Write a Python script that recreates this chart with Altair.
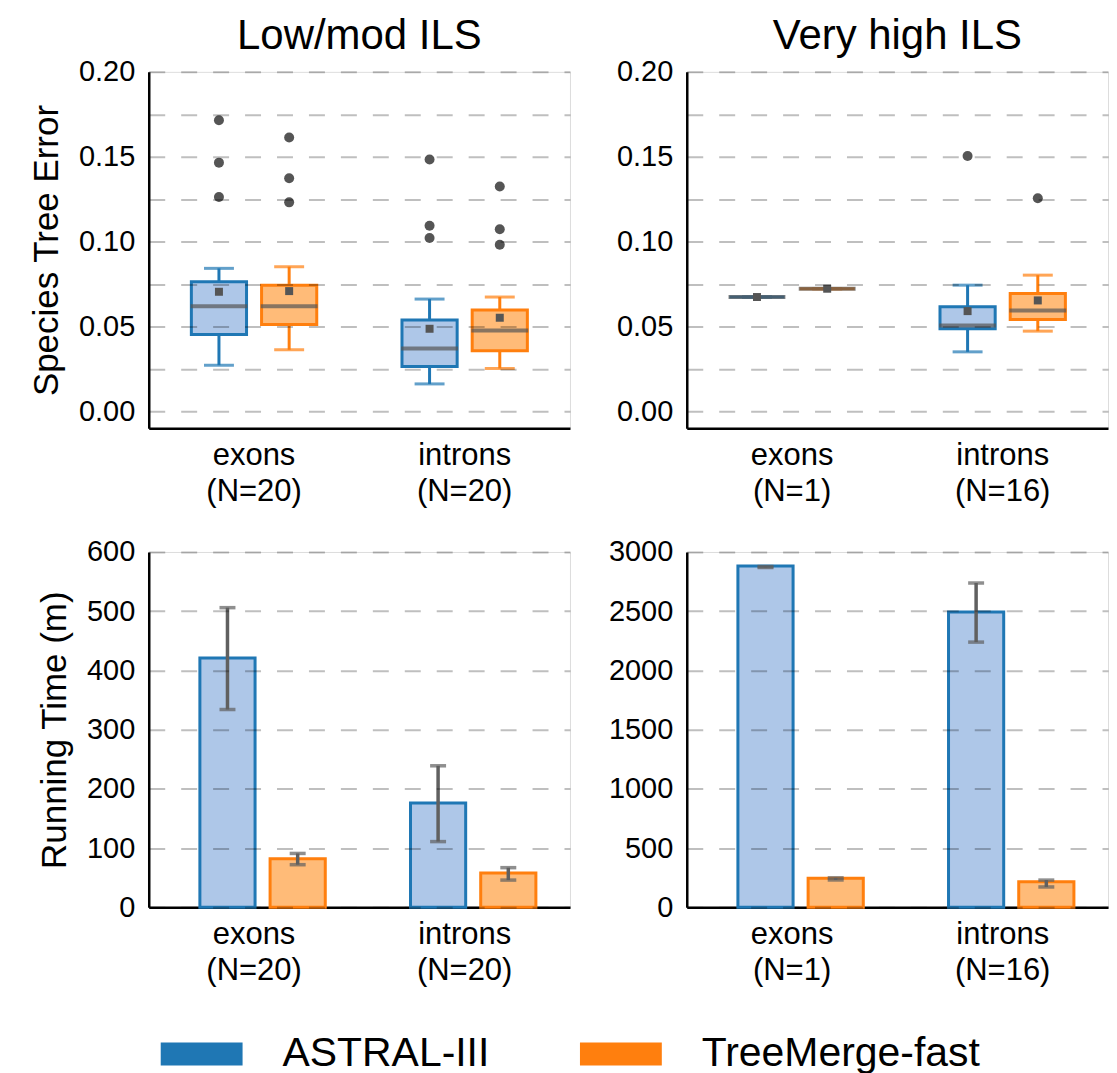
import altair as alt
import pandas as pd

FONT = "Liberation Sans"
methods = ["ASTRAL-III", "TreeMerge-fast"]
dark = ["#1f77b4", "#ff7f0e"]
light = ["#aec7e8", "#ffbb78"]
cats = ["exons", "introns"]
n_low = ["(N=20)", "(N=20)"]
n_high = ["(N=1)", "(N=16)"]

# box stats, order: exons/ASTRAL, exons/TreeMerge, introns/ASTRAL, introns/TreeMerge
low_lo = [0.0271, 0.0362, 0.0161, 0.0252]
low_q1 = [0.0452, 0.0511, 0.0264, 0.0356]
low_med = [0.0619, 0.0619, 0.0370, 0.0476]
low_q3 = [0.0763, 0.0743, 0.0537, 0.0596]
low_hi = [0.0842, 0.0852, 0.0661, 0.0673]
low_mean = [0.0704, 0.0708, 0.0486, 0.0551]
low_out_cat = ["exons"] * 6 + ["introns"] * 6
low_out_method = (["ASTRAL-III"] * 3 + ["TreeMerge-fast"] * 3) * 2
low_out_val = [0.1715, 0.1465, 0.1263, 0.1613, 0.1373, 0.1231,
               0.1483, 0.1093, 0.1021, 0.1324, 0.1072, 0.0981]

high_lo = [0.0673, 0.0722, 0.0350, 0.0472]
high_q1 = [0.0673, 0.0722, 0.0486, 0.0541]
high_med = [0.0673, 0.0722, 0.0505, 0.0594]
high_q3 = [0.0673, 0.0722, 0.0616, 0.0694]
high_hi = [0.0673, 0.0722, 0.0743, 0.0802]
high_mean = [0.0673, 0.0722, 0.0590, 0.0653]
high_out_cat = ["introns", "introns"]
high_out_method = ["ASTRAL-III", "TreeMerge-fast"]
high_out_val = [0.1504, 0.1255]

# running time (minutes): bar value, error low, error high
low_time = [421, 82, 176, 58]
low_time_lo = [334, 72, 111, 46]
low_time_hi = [506, 91, 239, 67]
high_time = [2882, 245, 2493, 217]
high_time_lo = [2869, 231, 2239, 172]
high_time_hi = [2877, 249, 2738, 230]

GRAY = "#555555"

legend = alt.Legend(
    orient="none", legendX=12, legendY=943, direction="horizontal", title=None,
    symbolType="M-1,-0.28H1V0.28H-1Z", symbolSize=6724, symbolStrokeWidth=0,
    symbolOpacity=1, labelFontSize=41, labelFont=FONT, labelOffset=40,
    labelLimit=500, columnPadding=90, labelColor="black",
)


def label_expr(ns):
    parts = []
    for c, n in zip(cats, ns):
        parts.append(f"datum.value == '{c}' ? ['{c}', '{n}'] : ")
    return "".join(parts) + "datum.value"


def x_enc(ns):
    return alt.X(
        "cat:N", sort=cats,
        scale=alt.Scale(paddingInner=0, paddingOuter=0),
        axis=alt.Axis(title=None, ticks=False, tickSize=0, labelAngle=0,
                      labelFontSize=31, labelPadding=12, labelLineHeight=36,
                      labelColor="black", labelExpr=label_expr(ns),
                      domainColor="black", domainWidth=2.5, grid=False),
    )


def xo_enc(align=0.5):
    return alt.XOffset("method:N", sort=methods,
                       scale=alt.Scale(domain=methods, paddingInner=0.214,
                                       paddingOuter=0.607, align=align))


def y_axis(values, title, labexpr=None, fmt=None):
    kw = dict(values=values, grid=True, gridDash=[16, 16], gridColor="black",
              gridOpacity=0.25, gridWidth=2, ticks=False, tickSize=0,
              domainColor="black", domainWidth=2.5, labelFontSize=29,
              labelPadding=14, labelColor="black", zindex=1,
              titleFontSize=35, titleFontWeight="normal", titleColor="black",
              titlePadding=14)
    if labexpr:
        kw["labelExpr"] = labexpr
    if fmt:
        kw["format"] = fmt
    kw["title"] = title if title else None
    return alt.Axis(**kw)


fill_enc = alt.Fill("method:N", scale=alt.Scale(domain=methods, range=light), legend=None)
stroke_enc = alt.Stroke("method:N", scale=alt.Scale(domain=methods, range=dark), legend=None)
# data-driven domain (field "series") so this legend is not merged with the hidden ones
color_enc = alt.Color("series:N", sort=methods,
                      scale=alt.Scale(range=dark), legend=legend)


def box_panel(title, ns, lo, q1, med, q3, hi, mean, oc, om, ov, ytitle):
    df = pd.DataFrame({
        "cat": [c for c in cats for _ in methods],
        "method": [m for _ in cats for m in methods],
        "series": [m for _ in cats for m in methods],
        "lo": lo, "q1": q1, "med": med, "q3": q3, "hi": hi, "mean": mean,
    })
    out = pd.DataFrame({"cat": oc, "method": om, "v": ov})
    vals = [round(i * 0.025, 3) for i in range(9)]
    yscale = alt.Scale(domain=[-0.01, 0.2], nice=False, zero=False)
    lab = "abs(datum.value*20 - round(datum.value*20)) < 0.001 ? format(datum.value, '.2f') : ''"
    yax = y_axis(vals, ytitle, lab)
    base = alt.Chart(df).encode(x=x_enc(ns), xOffset=xo_enc())
    wl = base.mark_rule(strokeWidth=3).encode(
        y=alt.Y("lo:Q", scale=yscale, axis=yax), y2="q1:Q", stroke=stroke_enc)
    wh = base.mark_rule(strokeWidth=3).encode(
        y=alt.Y("q3:Q", scale=yscale, axis=yax), y2="hi:Q", stroke=stroke_enc)
    box = base.mark_bar(strokeWidth=3).encode(
        y=alt.Y("q1:Q", scale=yscale, axis=yax), y2="q3:Q",
        fill=fill_enc, stroke=stroke_enc)
    cap_lo = base.mark_tick(size=30, thickness=3).encode(
        y=alt.Y("lo:Q", scale=yscale, axis=yax), color=color_enc)
    cap_hi = base.mark_tick(size=30, thickness=3).encode(
        y=alt.Y("hi:Q", scale=yscale, axis=yax), color=color_enc)
    medl = base.mark_tick(size=57, thickness=4, color=GRAY).encode(
        y=alt.Y("med:Q", scale=yscale, axis=yax))
    meanp = base.mark_square(size=64, color=GRAY, opacity=1).encode(
        y=alt.Y("mean:Q", scale=yscale, axis=yax))
    outp = alt.Chart(out).mark_circle(size=100, color=GRAY, opacity=1).encode(
        x=x_enc(ns), xOffset=xo_enc(), y=alt.Y("v:Q", scale=yscale, axis=yax))
    return alt.layer(wl, wh, box, cap_lo, cap_hi, medl, meanp, outp).properties(
        width=422, height=357,
        title=alt.Title(title, fontSize=42, fontWeight="normal", font=FONT,
                        color="black", offset=0),
    )


def bar_panel(ns, val, elo, ehi, ymax, step, ytitle):
    df = pd.DataFrame({
        "cat": [c for c in cats for _ in methods],
        "method": [m for _ in cats for m in methods],
        "v": val, "lo": elo, "hi": ehi,
    })
    vals = list(range(0, ymax + 1, step))
    yscale = alt.Scale(domain=[0, ymax], nice=False)
    yax = y_axis(vals, ytitle, fmt="d")
    base = alt.Chart(df).encode(x=x_enc(ns), xOffset=xo_enc(0.6))
    bars = base.mark_bar(strokeWidth=3).encode(
        y=alt.Y("v:Q", scale=yscale, axis=yax), fill=fill_enc, stroke=stroke_enc)
    err = base.mark_rule(strokeWidth=3.5, color="#606060").encode(
        y=alt.Y("lo:Q", scale=yscale, axis=yax), y2="hi:Q")
    clo = base.mark_tick(size=16, thickness=3.5, color="#606060").encode(
        y=alt.Y("lo:Q", scale=yscale, axis=yax))
    chi = base.mark_tick(size=16, thickness=3.5, color="#606060").encode(
        y=alt.Y("hi:Q", scale=yscale, axis=yax))
    return alt.layer(bars, err, clo, chi).properties(width=422, height=356)


tl = box_panel("Low/mod ILS", n_low, low_lo, low_q1, low_med, low_q3, low_hi,
               low_mean, low_out_cat, low_out_method, low_out_val, "Species Tree Error")
tr = box_panel("Very high ILS", n_high, high_lo, high_q1, high_med, high_q3, high_hi,
               high_mean, high_out_cat, high_out_method, high_out_val, None)
bl = bar_panel(n_low, low_time, low_time_lo, low_time_hi, 600, 100, "Running Time (m)")
br = bar_panel(n_high, high_time, high_time_lo, high_time_hi, 3000, 500, None)

chart = alt.concat(
    tl, tr, bl, br, columns=2,
    spacing=alt.RowColnumber(row=124, column=117),
    bounds="flush",
).resolve_scale(
    x="independent", y="independent", xOffset="independent",
    color="shared", fill="shared", stroke="shared",
).properties(
    padding={"left": 21, "top": 5, "right": 0, "bottom": 0},
).configure_view(stroke=None).configure_axis(
    labelFont=FONT, titleFont=FONT,
).configure(font=FONT)

chart.save("out.html", embed_options={"renderer": "svg", "actions": False})
